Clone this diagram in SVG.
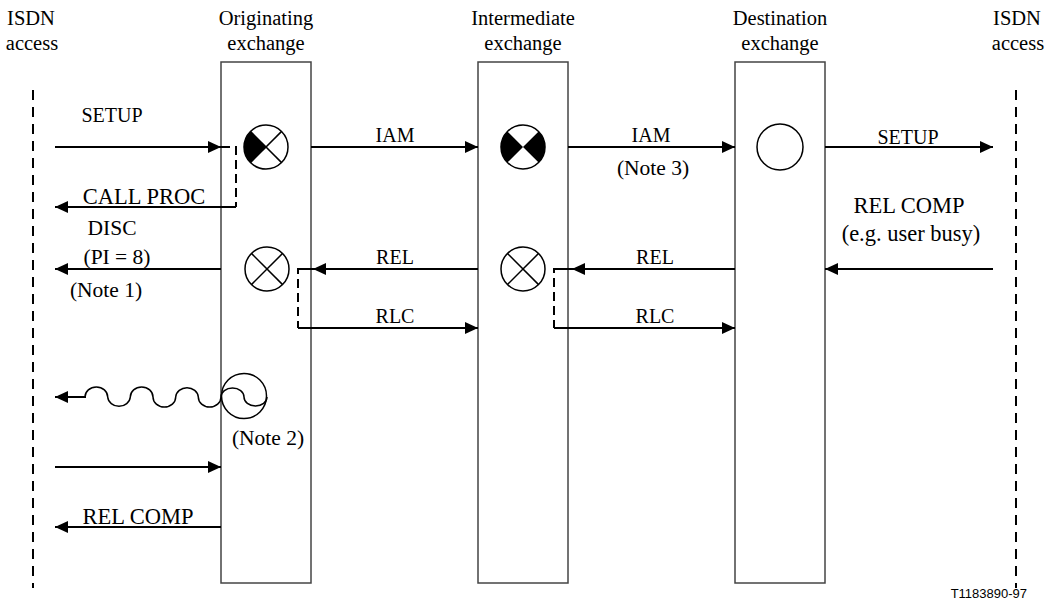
<svg xmlns="http://www.w3.org/2000/svg" width="1054" height="608" viewBox="0 0 1054 608">
<style>
text{font-family:"Liberation Serif","Times New Roman",serif;font-size:20px;fill:#000;text-anchor:middle}
.h{font-size:20.5px}
.big{font-size:22.5px}
.note{font-size:21.5px}
.box{fill:#fff;stroke:#444;stroke-width:1.5}
.ln{stroke:#000;stroke-width:2;fill:none}
.ar{stroke:#000;stroke-width:2;fill:none;marker-end:url(#ah)}
.dash{stroke:#000;stroke-width:2;fill:none;stroke-dasharray:9,5}
.acc{stroke:#000;stroke-width:2;fill:none;stroke-dasharray:10,7}
.c{fill:#fff;stroke:#000;stroke-width:1.5}
.x{stroke:#000;stroke-width:1.5}
.id{font-family:"Liberation Sans",Arial,sans-serif;font-size:13px}
</style>
<defs>
<marker id="ah" markerWidth="14" markerHeight="12" refX="13" refY="6" orient="auto" markerUnits="userSpaceOnUse">
<path d="M0,0 L13,6 L0,12 Z" fill="#000"/>
</marker>
</defs>

<g id="access-left">
<line class="acc" x1="33" y1="90" x2="33" y2="588"/>
<text class="h" x="31" y="25">ISDN</text>
<text class="h" x="32" y="50">access</text>
</g>
<g id="access-right">
<line class="acc" x1="1016" y1="90" x2="1016" y2="588"/>
<text class="h" x="1017" y="25">ISDN</text>
<text class="h" x="1018" y="50">access</text>
</g>

<g id="originating">
<text class="h" x="266" y="25">Originating</text>
<text class="h" x="266" y="50">exchange</text>
<rect class="box" x="221" y="62" width="90" height="521"/>
<g id="orig-c1">
<circle class="c" cx="266" cy="147" r="22"/>
<path d="M266,147 L250.4,131.4 A22,22 0 0 0 250.4,162.6 Z" fill="#000"/>
<line class="x" x1="250.4" y1="131.4" x2="281.6" y2="162.6"/>
<line class="x" x1="281.6" y1="131.4" x2="250.4" y2="162.6"/>
</g>
<g id="orig-c2">
<circle class="c" cx="267" cy="269" r="22"/>
<line class="x" x1="251.4" y1="253.4" x2="282.6" y2="284.6"/>
<line class="x" x1="282.6" y1="253.4" x2="251.4" y2="284.6"/>
</g>
<g id="orig-c3">
<circle class="c" cx="244" cy="396" r="22.5"/>
</g>
</g>

<g id="intermediate">
<text class="h" x="523" y="25">Intermediate</text>
<text class="h" x="523" y="50">exchange</text>
<rect class="box" x="478" y="62" width="90" height="521"/>
<g id="int-c1">
<circle class="c" cx="523" cy="147" r="22"/>
<path d="M523,147 L507.4,131.4 A22,22 0 0 0 507.4,162.6 Z M523,147 L538.6,131.4 A22,22 0 0 1 538.6,162.6 Z" fill="#000"/>
</g>
<g id="int-c2">
<circle class="c" cx="523" cy="269" r="22"/>
<line class="x" x1="507.4" y1="253.4" x2="538.6" y2="284.6"/>
<line class="x" x1="538.6" y1="253.4" x2="507.4" y2="284.6"/>
</g>
</g>

<g id="destination">
<text class="h" x="780" y="25">Destination</text>
<text class="h" x="780" y="50">exchange</text>
<rect class="box" x="735" y="62" width="90" height="521"/>
<g id="dest-c1">
<circle class="c" cx="780" cy="147" r="23"/>
</g>
</g>

<g id="connectors">
<line class="ar" x1="55" y1="147" x2="221" y2="147"/>
<path class="dash" d="M221,147 H236 V207"/>
<line class="ar" x1="236" y1="207" x2="55" y2="207"/>
<line class="ar" x1="311" y1="147" x2="478" y2="147"/>
<line class="ar" x1="568" y1="147" x2="735" y2="147"/>
<line class="ar" x1="825" y1="147" x2="993" y2="147"/>

<line class="ar" x1="221" y1="269" x2="55" y2="269"/>
<line class="ln" x1="478" y1="269" x2="302" y2="269"/>
<line class="ar" x1="478" y1="269" x2="313" y2="269"/>
<path class="dash" d="M302,269 H298 V328"/>
<line class="ar" x1="298" y1="328" x2="478" y2="328"/>

<line class="ln" x1="735" y1="269" x2="559" y2="269"/>
<line class="ar" x1="735" y1="269" x2="572" y2="269"/>
<path class="dash" d="M559,269 H554 V328"/>
<line class="ar" x1="554" y1="328" x2="735" y2="328"/>

<line class="ar" x1="993" y1="269" x2="825" y2="269"/>

<path fill="none" stroke="#000" stroke-width="1.5" d="M85,397 A11.33,10 0 0 1 107.7,397 A11.33,10 0 0 0 130.3,397 A11.33,10 0 0 1 153,397 A11.33,10 0 0 0 175.7,397 A11.33,10 0 0 1 198.3,397 A11.33,10 0 0 0 221,397 A11.5,9 0 0 1 244,397 A11.5,9 0 0 0 267,397"/>
<line class="ar" x1="86" y1="397" x2="55" y2="397"/>

<line class="ar" x1="55" y1="467" x2="221" y2="467"/>
<line class="ar" x1="221" y1="527" x2="55" y2="527"/>
</g>

<g id="labels">
<text x="112" y="122">SETUP</text>
<text class="big" x="144" y="204">CALL PROC</text>
<text class="note" x="112" y="235">DISC</text>
<text class="note" x="117" y="264">(PI = 8)</text>
<text class="note" x="106" y="297">(Note 1)</text>
<text x="395" y="142">IAM</text>
<text x="651" y="142">IAM</text>
<text class="note" x="653" y="175">(Note 3)</text>
<text x="908" y="144">SETUP</text>
<text x="395" y="264">REL</text>
<text x="395" y="323">RLC</text>
<text x="655" y="264">REL</text>
<text x="655" y="323">RLC</text>
<text class="big" x="909" y="213">REL COMP</text>
<text class="big" x="911" y="241">(e.g. user busy)</text>
<text class="note" x="268" y="445">(Note 2)</text>
<text class="big" x="138" y="524">REL COMP</text>
<text class="id" x="1027" y="598" style="text-anchor:end">T1183890-97</text>
</g>
</svg>
